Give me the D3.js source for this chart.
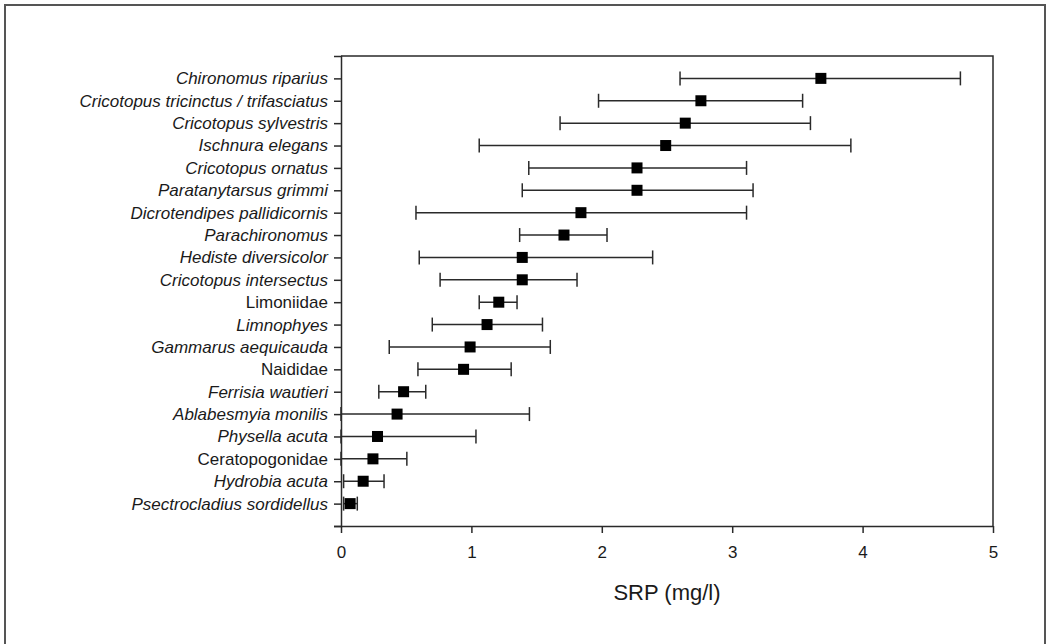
<!DOCTYPE html>
<html lang="en">
<head>
    <meta charset="UTF-8">
    <title>SRP ranges</title>
    <script src="https://d3js.org/d3.v7.min.js"></script>
    <style>
        body { margin: 0; background: #fff; }
        svg { display: block; }
        text { font-family: "Liberation Sans", Arial, sans-serif; fill: #1a1a1a; }
        .axis path, .axis line { stroke: #2a2a2a; stroke-width: 1.5px; }
        .axis text { font-size: 17px; }
        .err { stroke: #2a2a2a; stroke-width: 1.5px; }
    </style>
</head>
<body>
    <svg width="1048" height="644"></svg>
    <script>
        // taxa, top to bottom
        const taxa = [
            "Chironomus riparius", "Cricotopus tricinctus / trifasciatus", "Cricotopus sylvestris",
            "Ischnura elegans", "Cricotopus ornatus", "Paratanytarsus grimmi",
            "Dicrotendipes pallidicornis", "Parachironomus", "Hediste diversicolor",
            "Cricotopus intersectus", "Limoniidae", "Limnophyes", "Gammarus aequicauda",
            "Naididae", "Ferrisia wautieri", "Ablabesmyia monilis", "Physella acuta",
            "Ceratopogonidae", "Hydrobia acuta", "Psectrocladius sordidellus"
        ];
        // family names are set upright
        const upright = ["Limoniidae", "Naididae", "Ceratopogonidae"];

        const srpMean = [3.68, 2.76, 2.64, 2.49, 2.27, 2.27, 1.84, 1.71, 1.39, 1.39,
                         1.21, 1.12, 0.99, 0.94, 0.48, 0.43, 0.28, 0.245, 0.17, 0.07];
        const srpLow  = [2.60, 1.975, 1.68, 1.06, 1.44, 1.39, 0.575, 1.37, 0.60, 0.76,
                         1.06, 0.70, 0.37, 0.59, 0.29, 0.0, 0.0, 0.0, 0.02, 0.02];
        const srpHigh = [4.75, 3.54, 3.60, 3.91, 3.11, 3.16, 3.11, 2.04, 2.39, 1.81,
                         1.35, 1.545, 1.605, 1.305, 0.65, 1.445, 1.035, 0.505, 0.33, 0.125];
        const xTicks = [0, 1, 2, 3, 4, 5];

        const svg = d3.select("svg");

        // outer frame (open at the bottom)
        svg.append("path")
            .attr("d", "M5,644 V5 H1045 V644")
            .attr("fill", "none")
            .attr("stroke", "#555")
            .attr("stroke-width", 2);

        const pLeft = 341, pRight = 993, pTop = 56, pBottom = 526;

        const x = d3.scaleLinear().domain([0, 5]).range([pLeft, pRight]);
        const y = d3.scalePoint().domain(taxa).range([pTop, pBottom]).padding(1);

        // plot box (top and right)
        svg.append("path")
            .attr("d", `M${pLeft},${pTop} H${pRight} V${pBottom}`)
            .attr("fill", "none")
            .attr("stroke", "#2a2a2a")
            .attr("stroke-width", 1.5);

        const xAxis = svg.append("g")
            .attr("class", "axis")
            .attr("transform", `translate(0,${pBottom})`)
            .call(d3.axisBottom(x).tickValues(xTicks).tickFormat(d3.format("d")).tickSize(7).tickSizeOuter(0).tickPadding(13));
        xAxis.select(".domain").attr("d", `M${pLeft - 7},0.5H${pRight}`);

        const yAxis = svg.append("g")
            .attr("class", "axis")
            .attr("transform", `translate(${pLeft},0)`)
            .call(d3.axisLeft(y).tickSize(7).tickSizeOuter(7).tickPadding(6));
        yAxis.selectAll(".tick text")
            .style("font-style", d => upright.includes(d) ? "normal" : "italic");

        svg.append("text")
            .attr("x", (pLeft + pRight) / 2)
            .attr("y", 600)
            .attr("text-anchor", "middle")
            .style("font-size", "22px")
            .text("SRP (mg/l)");

        const rows = svg.append("g").selectAll("g")
            .data(taxa)
            .enter().append("g")
            .attr("transform", d => `translate(0,${y(d)})`);

        rows.append("line")
            .attr("class", "err")
            .attr("x1", (d, i) => x(srpLow[i]))
            .attr("x2", (d, i) => x(srpHigh[i]))
            .attr("y1", 0).attr("y2", 0);

        rows.append("line")
            .attr("class", "err")
            .attr("x1", (d, i) => x(srpLow[i])).attr("x2", (d, i) => x(srpLow[i]))
            .attr("y1", -7).attr("y2", 7);

        rows.append("line")
            .attr("class", "err")
            .attr("x1", (d, i) => x(srpHigh[i])).attr("x2", (d, i) => x(srpHigh[i]))
            .attr("y1", -7).attr("y2", 7);

        rows.append("rect")
            .attr("x", (d, i) => x(srpMean[i]) - 5.5)
            .attr("y", -5.5)
            .attr("width", 11)
            .attr("height", 11)
            .attr("fill", "#000");
    </script>
</body>
</html>
